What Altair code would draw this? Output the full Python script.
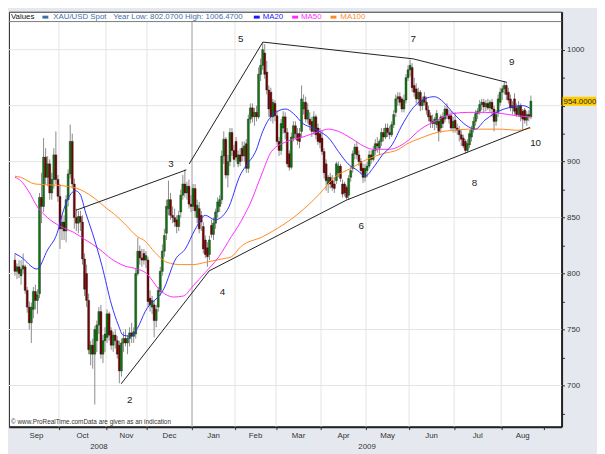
import altair as alt
import pandas as pd

# ---------------- daily XAU/USD candles: (open, high, low, close) per month ----------------
sep08 = [(812,818,798,802),(802,809,795,806),(806,812,796,800),(798,812,790,804),(804,818,800,807),
         (806,808,782,785),(785,788,765,770),(770,775,750,756),(756,774,738,770),(768,788,760,784),
         (784,790,768,776),(776,786,764,781),(782,872,778,868),(868,890,845,860),(860,921,855,904),
         (904,912,880,886),(886,905,878,898),(898,902,866,872),(872,890,866,884),(884,912,876,906),
         (906,927,880,884),(884,888,864,869)]
oct08 = [(869,880,822,840),(840,852,830,846),(846,852,830,838),(838,870,828,866),(866,893,860,889),
         (889,933,885,918),(918,925,876,880),(880,885,840,850),(850,858,838,845),(845,856,836,851),
         (851,856,838,846),(846,852,808,813),(813,818,780,786),(800,808,770,776),(776,782,728,732),
         (728,740,718,736),(736,742,715,728),(728,753,683,750),(740,758,730,754),(754,770,746,766),
         (766,772,724,728),(728,745,720,740),(740,752,730,746)]
nov08 = [(743,768,738,764),(764,766,740,745),(749,752,732,736),(736,748,730,745),(745,750,733,740),
         (740,744,724,728),(736,740,702,713),(713,742,708,738),(738,748,730,742),(742,750,735,738),
         (738,745,728,742),(742,752,735,747),(747,756,738,744),(744,752,738,748),(746,805,742,800),
         (800,832,798,820),(820,825,808,814),(814,822,806,812),(818,822,808,812),(812,820,805,816)]
dec08 = [(812,815,770,775),(778,785,766,772),(770,780,764,776),(772,776,743,758),(758,772,752,768),
         (770,788,766,785),(784,806,780,802),(802,826,798,820),(820,840,815,834),(836,866,830,860),
         (858,883,852,866),(866,872,848,852),(852,860,845,850),(850,858,842,846),(848,852,836,842),
         (842,856,838,852),(855,875,850,870),(870,888,866,880),(880,893,868,872),
         (872,882,866,878),(878,884,858,862),(862,870,855,860)]
jan09 = [(860,880,856,876),
         (876,880,850,856),(850,866,845,861),(858,864,836,840),(852,856,838,846),(842,846,818,822),
         (830,834,814,817),(823,828,806,815),(817,834,812,830),(843,848,832,835),(835,850,830,845),
         (845,858,840,855),(855,868,850,864),(860,870,855,866),(866,910,862,905),(905,927,898,920),
         (920,922,885,888),(888,906,877,900),(900,930,896,926),(926,930,905,910),(910,915,895,902)]
feb09 = [(918,922,900,904),(898,910,895,906),(906,912,896,900),(912,918,900,905),(905,918,900,914),
         (916,920,890,894),(894,942,890,938),(938,952,934,948),(948,952,935,940),(940,948,932,944),
         (944,950,936,940),(940,984,938,978),(978,992,972,986),(986,1006,982,1000),(997,1005,974,978),
         (980,990,960,964),(964,968,940,947),(962,966,936,940),(940,956,934,953),(952,955,936,941)]
mar09 = [(941,946,915,918),(918,922,905,910),(910,938,906,934),(930,945,925,940),(940,944,920,926),
         (926,930,895,898),(907,910,892,895),(895,926,893,922),(921,936,918,932),(932,936,920,925),
         (925,930,915,919),(925,930,912,918),(927,968,922,956),(947,960,942,953),(953,958,935,938),
         (938,952,934,946),(938,944,928,933),(936,940,922,927),(927,945,924,940),(940,942,920,924),
         (930,934,915,918),(925,930,912,917)]
apr09 = [(921,928,906,909),(909,912,885,890),(898,902,874,883),
         (880,888,872,886),(886,890,876,880),(883,888,874,877),(880,886,872,876),(883,900,880,898),
         (890,900,886,896),(896,898,882,885),(880,884,868,871),(880,882,869,872),(877,879,866,868),
         (870,888,866,885),(886,896,882,892),(894,910,890,907),(907,916,902,913),(913,918,902,906),
         (906,910,896,900),(900,903,889,892),(894,898,881,886),(886,898,882,894)]
may09 = [(892,900,886,896),
         (896,910,894,906),(906,910,898,902),(902,914,900,910),(910,920,906,916),(916,922,908,914),
         (912,920,906,918),(918,930,914,926),(926,930,918,922),(922,934,920,930),(930,934,922,926),
         (926,932,920,924),(924,936,922,933),(933,946,930,942),(944,960,940,956),(956,962,950,958),
         (958,962,950,953),(956,958,944,947),(947,960,944,955),(955,978,952,975),(975,986,972,982)]
jun09 = [(982,991,976,986),(984,988,962,966),(968,975,958,962),(965,970,952,956),(956,966,950,962),
         (962,964,945,950),(950,958,946,955),(958,962,950,953),(953,958,942,946),(946,950,936,940),
         (941,944,930,936),(936,942,930,934),(934,940,928,938),(933,946,930,943),(936,938,918,927),
         (930,942,926,940),(940,944,930,934),(938,950,935,947),(947,952,938,941),(941,946,934,938),
         (941,945,928,930),(930,940,926,936)]
jul09 = [(937,944,926,930),(930,934,924,928),(928,932,918,924),
         (924,928,914,920),(921,924,912,914),(918,920,907,910),(910,920,908,916),(915,928,912,925),
         (922,932,918,929),(929,940,926,936),(936,946,932,943),(943,948,938,945),(945,955,942,951),
         (951,956,946,953),(953,956,944,949),(949,955,945,952),(952,956,946,948),(948,955,944,953),
         (953,956,940,947),(947,950,927,936),(936,946,932,942),(944,960,940,956),(953,966,950,962)]
aug09 = [(962,968,955,965),(965,972,960,968),(968,970,955,960),(962,966,952,955),(956,960,945,948),
         (948,954,942,950),(956,961,942,945),(948,952,940,942),(942,954,940,950),(950,952,936,940),
         (945,947,929,938),(946,948,934,937),(937,945,932,942),(942,946,936,940),(940,959,938,954)]
months_ohlc = [sep08, oct08, nov08, dec08, jan09, feb09, mar09, apr09, may09, jun09, jul09, aug09]

# ---------------- axis categories ----------------
month_names = ["Sep", "Oct", "Nov", "Dec", "Jan", "Feb", "Mar", "Apr", "May", "Jun", "Jul", "Aug"]
month_first = [0, 22, 45, 65, 87, 108, 128, 150, 172, 193, 215, 238, 259]   # trading-day index
year_names = ["2008", "2009"]
year_pos = [41, 172]
y_ticks = [675, 700, 725, 750, 775, 800, 825, 850, 875, 900, 925, 950, 975, 1000]
y_grid = [700, 750, 800, 850, 900, 950, 1000]

# ---------------- moving averages (trading-day index, value) ----------------
ma20_i = [0, 2.8, 10.8, 15.9, 20.6, 23.8, 29.5, 31.8, 34.6, 37.9, 42.5, 47.2, 50.5, 52.8, 56.6, 59.8, 63.6,
          72.9, 78.5, 83.2, 87.9, 93.0, 97.7, 103.8, 110.3, 113.6, 117.8, 120.6, 123.4, 126.7, 132.3, 136.0,
          140.7, 145.4, 148.7, 153.3, 158.0, 162.7, 167.4, 171.1, 174.8, 179.5, 184.2, 188.9, 195.4, 200.1,
          204.8, 209.4, 212.3, 216.9, 221.6, 224.9, 229.5, 234.2, 238.9, 243.6, 248.2, 252]
ma20_v = [818, 815, 804, 821, 836, 857, 874, 871, 854, 836, 807, 772, 754, 745, 744, 751, 766,
          787, 813, 822, 839, 852, 848, 857, 889, 898, 910, 925, 936, 943, 947, 943,
          934, 930, 927, 921, 909, 898, 892, 887, 894, 906, 915, 932, 950, 956,
          958, 953, 947, 938, 931, 929, 937, 943, 947, 949, 950, 947]
ma50_i = [0, 2.8, 6.5, 11.2, 15.9, 22.4, 28.5, 34.6, 41.1, 47.2, 53.3, 59.8, 63.6, 71.5, 77.6, 82.3, 87.0,
          93.0, 99.6, 105.7, 108.9, 115.0, 120.6, 125.3, 132.8, 140.7, 148.7, 153.3, 158.0, 164.1, 170.2,
          174.8, 182.8, 190.7, 198.2, 206.2, 214.1, 221.6, 229.5, 237.5, 245.0, 252]
ma50_v = [886, 883, 874, 859, 850, 842, 837, 830, 822, 813, 807, 804, 801, 784, 779, 780, 789,
          801, 815, 833, 842, 863, 889, 909, 918, 922, 927, 929, 927, 921, 914,
          911, 911, 917, 929, 937, 943, 944, 944, 943, 941, 940]
ma100_i = [0, 2.8, 9.8, 19.2, 28.5, 34.1, 41.1, 44.9, 47.2, 53.3, 59.8, 63.6, 68.3, 74.3, 80.9, 87.0, 93.0,
           101.0, 105.7, 110.3, 121.1, 140.7, 148.7, 156.1, 164.1, 172.0, 179.5, 187.5, 190.7, 198.2,
           206.2, 214.1, 221.6, 229.5, 237.5, 245.0, 252]
ma100_v = [887, 886, 880, 879, 877, 873, 864, 858, 855, 845, 833, 829, 819, 810, 808, 808, 810,
           813, 815, 824, 833, 857, 871, 886, 894, 902, 907, 911, 915, 921,
           926, 928, 929, 929, 929, 928, 930]

# ---------------- hand-drawn trend lines and wave counts (trading-day index, value) ----------------
seg_i0 = [29.9, 51.9, 94.9, 161.8, 85.1, 121.1, 194.5]
seg_v0 = [856.6, 701.5, 802.4, 865.5, 897.9, 1006.8, 991.8]
seg_i1 = [83.7, 94.9, 161.8, 251.5, 121.1, 194.5, 240.3]
seg_v1 = [892.6, 802.4, 865.5, 930.5, 1006.8, 991.8, 970.8]
wave_text = ["2", "3", "4", "5", "6", "7", "8", "9", "10"]
wave_i = [56.1, 76.2, 101.4, 110.3, 169.2, 194.5, 224.4, 242.6, 254.3]
wave_v = [687.0, 897.8, 783.6, 1009.4, 842.6, 1009.4, 881.2, 989.2, 916.3]

# ---------------- build tables ----------------
rows = []
k = 0
for month in months_ohlc:
    for (o, h, l, c) in month:
        rows.append({"i": k, "o": o, "h": h, "l": l, "c": c, "dir": "up" if c >= o else "down"})
        k += 1
candles = pd.DataFrame(rows)
last_close = candles["c"].iloc[-1]

ma20 = pd.DataFrame({"i": ma20_i, "v": ma20_v})
ma50 = pd.DataFrame({"i": ma50_i, "v": ma50_v})
ma100 = pd.DataFrame({"i": ma100_i, "v": ma100_v})
segs = pd.DataFrame({"i0": seg_i0, "v0": seg_v0, "i1": seg_i1, "v1": seg_v1})
waves = pd.DataFrame({"i": wave_i, "v": wave_v, "t": wave_text})
bounds = [b - 0.5 for b in month_first]
months = pd.DataFrame({"m": month_names,
                       "mid": [(bounds[j] + bounds[j + 1]) / 2 for j in range(len(month_names))]})
years = pd.DataFrame({"y": year_names, "mid": year_pos})
vgrid = pd.DataFrame({"b": bounds[1:-1]})
ygrid = pd.DataFrame({"v": y_grid})
ysep = pd.DataFrame({"b": [month_first[4] - 0.5]})
lastdf = pd.DataFrame({"v": [last_close], "top": [last_close + 4.0], "bot": [last_close - 4.0],
                       "t": [f"{last_close:.4f}"]})

# ---------------- scales / shared axes ----------------
W, H = 562, 422
xs = alt.Scale(domain=[-0.5, 264.6], nice=False, zero=False)
ys = alt.Scale(domain=[663.2, 1033.9], nice=False, zero=False)
xaxis = alt.Axis(orient="bottom", values=bounds[1:], labels=False, tickSize=3, tickColor="#333333",
                 domainColor="#222222", domainWidth=2, grid=False, title=None)
yaxis = alt.Axis(orient="right", values=y_ticks, format="d",
                 labelExpr="(datum.value % 50 == 0 && datum.value != 950) ? datum.label : ''",
                 tickSize=3, tickColor="#333333", domainColor="#222222", domainWidth=2, grid=False,
                 labelFont="Liberation Sans", labelFontSize=8, labelColor="#333333", labelPadding=2,
                 title=None)


def X(f):
    return alt.X(f, type="quantitative", scale=xs, axis=xaxis)


def Y(f):
    return alt.Y(f, type="quantitative", scale=ys, axis=yaxis)


FONT = "Liberation Sans"
SEP_PX = 10  # legend strip height (px) above the plot area

hgrid = alt.Chart(ygrid).mark_rule(color="#e3e3e3", strokeWidth=1).encode(
    y=Y("v"), x=alt.value(0), x2=alt.value(W))
vg = alt.Chart(vgrid).mark_rule(color="#e3e3e3", strokeWidth=1).encode(
    x=X("b"), y=alt.value(SEP_PX), y2=alt.value(H))
vsep = alt.Chart(ysep).mark_rule(color="#a8a8a8", strokeWidth=1).encode(
    x=X("b"), y=alt.value(SEP_PX), y2=alt.value(H))

wicks = alt.Chart(candles).mark_rule(color="#8a8a8a", strokeWidth=1).encode(
    x=X("i"), y=Y("l"), y2=alt.Y2("h"))
bodies = alt.Chart(candles).mark_bar(width=2, stroke="#1a1a1a", strokeWidth=0.4).encode(
    x=X("i"), y=Y("o"), y2=alt.Y2("c"),
    fill=alt.Fill("dir:N", scale=alt.Scale(domain=["up", "down"], range=["#0a7d0a", "#7d0000"]),
                  legend=None))

line100 = alt.Chart(ma100).mark_line(interpolate="monotone", strokeWidth=1, color="#ff8a1f").encode(
    x=X("i"), y=Y("v"))
line50 = alt.Chart(ma50).mark_line(interpolate="monotone", strokeWidth=1, color="#ff2bff").encode(
    x=X("i"), y=Y("v"))
line20 = alt.Chart(ma20).mark_line(interpolate="monotone", strokeWidth=1, color="#3030ff").encode(
    x=X("i"), y=Y("v"))

trend = alt.Chart(segs).mark_rule(color="#1e1e1e", strokeWidth=1).encode(
    x=X("i0"), y=Y("v0"), x2=alt.X2("i1"), y2=alt.Y2("v1"))
wave_lbl = alt.Chart(waves).mark_text(font=FONT, fontSize=10, color="#222222",
                                      align="center", baseline="middle").encode(
    x=X("i"), y=Y("v"), text="t:N")

sep_line = alt.Chart(ygrid.head(1)).mark_rule(color="#7a7a7a", strokeWidth=1).encode(
    x=alt.value(0), x2=alt.value(W), y=alt.value(SEP_PX))

# legend strip
leg_text = pd.DataFrame({
    "t": ["Values", "XAU/USD Spot", "Year Low: 802.0700 High: 1006.4700", "MA20", "MA50", "MA100"],
    "px": [2, 45, 106, 258, 297, 337],
    "col": ["#111111", "#3d6fa8", "#3d6fa8", "#1a1aff", "#ff2bff", "#ff8a1f"],
})
leg_sw = pd.DataFrame({"px": [34, 249, 288, 327], "px2": [40, 255, 294, 333],
                       "col": ["#3d6fa8", "#1a1aff", "#ff2bff", "#ff8a1f"]})
legend_txt = alt.Chart(leg_text).mark_text(font=FONT, fontSize=8, align="left", baseline="middle").encode(
    x=alt.X("px:Q", scale=None), y=alt.value(5.5), text="t:N", fill=alt.Fill("col:N", scale=None))
legend_sw = alt.Chart(leg_sw).mark_rect().encode(
    x=alt.X("px:Q", scale=None), x2=alt.X2("px2:Q"), y=alt.value(4), y2=alt.value(7),
    fill=alt.Fill("col:N", scale=None))

# bottom labels
month_lbl = alt.Chart(months).mark_text(font=FONT, fontSize=8, color="#333333", baseline="middle").encode(
    x=X("mid"), y=alt.value(H + 9), text="m:N")
year_lbl = alt.Chart(years).mark_text(font=FONT, fontSize=8, color="#333333", baseline="middle").encode(
    x=X("mid"), y=alt.value(H + 21), text="y:N")
credit = alt.Chart(ygrid.head(1)).mark_text(font=FONT, fontSize=6.5, color="#333333", align="left",
                                           baseline="alphabetic").encode(
    x=alt.value(2), y=alt.value(H - 3),
    text=alt.value("\u00a9 www.ProRealTime.comData are given as an indication"))

# last price tag
tag_box = alt.Chart(lastdf).mark_rect(color="#ffcc00").encode(
    x=alt.value(W + 1), x2=alt.value(W + 35), y=Y("top"), y2=alt.Y2("bot"))
tag_txt = alt.Chart(lastdf).mark_text(font=FONT, fontSize=8, color="#222222", align="left",
                                      baseline="middle", dy=1).encode(
    x=alt.value(W + 2), y=Y("v"), text="t:N")

chart = alt.layer(
    hgrid, vg, vsep, wicks, bodies, line100, line50, line20, trend, wave_lbl, sep_line,
    legend_txt, legend_sw, month_lbl, year_lbl, credit, tag_box, tag_txt
).resolve_scale(
    fill="independent"
).properties(
    width=W, height=H, padding=0, background="#e5e9ef"
).configure_view(
    stroke="#333333", strokeWidth=1, fill="white"
)

chart.save("out.html", embed_options={"renderer": "svg", "actions": False})
